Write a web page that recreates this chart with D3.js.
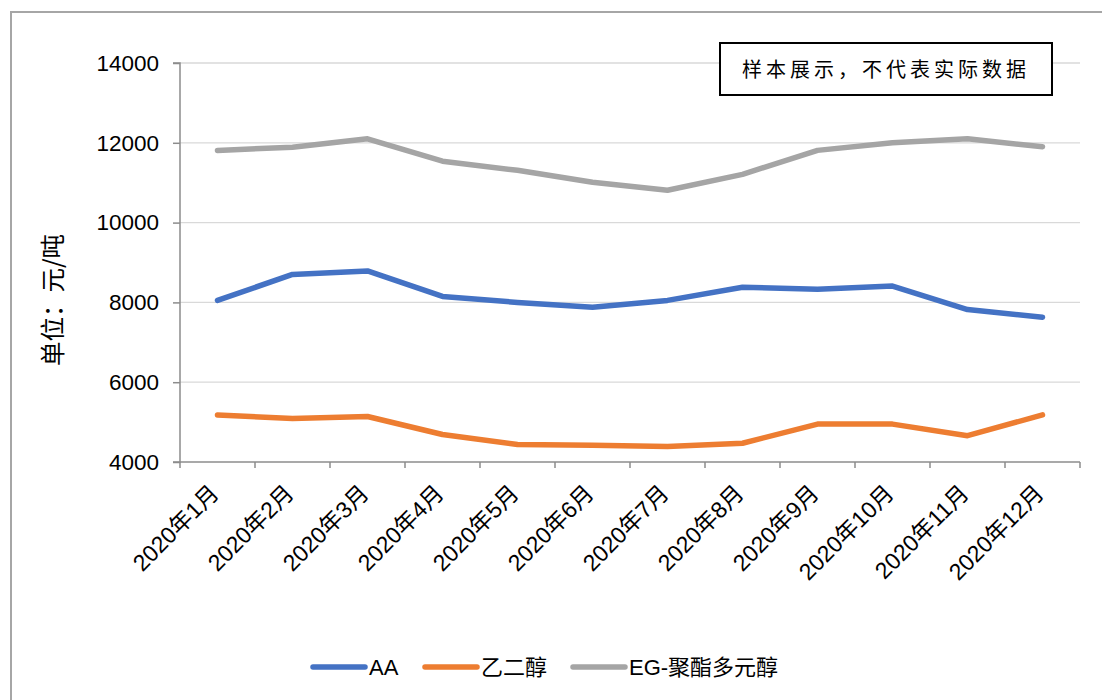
<!DOCTYPE html>
<html><head><meta charset="utf-8">
<script src="https://cdn.jsdelivr.net/npm/d3@7"></script>
<style>
html,body{margin:0;padding:0;background:#fff;}
svg{display:block;}
</style></head>
<body>
<svg id="chart" width="1102" height="700"></svg>
<script>
const categories = ["2020年1月","2020年2月","2020年3月","2020年4月","2020年5月","2020年6月","2020年7月","2020年8月","2020年9月","2020年10月","2020年11月","2020年12月"];
const seriesNames = ["AA","乙二醇","EG-聚酯多元醇"];
const aaValues = [8050, 8700, 8790, 8150, 8000, 7880, 8050, 8380, 8330, 8410, 7820, 7630];
const egValues = [5180, 5090, 5140, 4690, 4440, 4420, 4390, 4470, 4950, 4950, 4660, 5180];
const polyolValues = [11810, 11890, 12100, 11540, 11310, 11010, 10810, 11210, 11810, 12000, 12100, 11900];
const yTicks = [4000, 6000, 8000, 10000, 12000, 14000];
const colors = ["#4472C4", "#ED7D31", "#A5A5A5"];
const yTitle = "单位：元/吨";
const noteText = "样本展示，不代表实际数据";

(function(){
const svg = d3.select("#chart");
const font = "'Liberation Sans', Arial, 'Noto Sans CJK SC', sans-serif";
const cjk = "'Noto Sans CJK SC', sans-serif";

// outer border
svg.append("path").attr("d", "M11,712 L11,12 L1115,12")
  .attr("fill","none").attr("stroke","#A6A6A6").attr("stroke-width",2);

const pl = 180, pr = 1080, pt = 63, pb = 462;
const x = d3.scaleBand().domain(categories).range([pl, pr]).padding(0);
const y = d3.scaleLinear().domain([4000, 14000]).range([pb, pt]);

// gridlines
svg.append("g").selectAll("line").data(yTicks.filter(d => d > 4000)).join("line")
  .attr("x1", pl).attr("x2", pr).attr("y1", d => y(d)).attr("y2", d => y(d))
  .attr("stroke", "#D9D9D9").attr("stroke-width", 1.3);

// y axis
const yAxis = svg.append("g").attr("transform", `translate(${pl},0)`)
  .call(d3.axisLeft(y).tickValues(yTicks).tickSize(7).tickPadding(14).tickFormat(d3.format("d")));
yAxis.select(".domain").attr("stroke", "#8C8C8C").attr("stroke-width", 1.5).attr("d", `M-7,${pt}H0V${pb}H-7`);
yAxis.selectAll(".tick line").attr("stroke", "#8C8C8C").attr("stroke-width", 1.5);
yAxis.selectAll(".tick text").attr("font-family", font).attr("font-size", 22.5).attr("fill", "#000");

// x axis
const xAxis = svg.append("g").attr("transform", `translate(0,${pb})`)
  .call(d3.axisBottom(x).tickSize(0).tickFormat(""));
xAxis.select(".domain").attr("stroke", "#8C8C8C").attr("stroke-width", 1.5).attr("d", `M${pl},0H${pr}`);
const bounds = categories.map(c => x(c)).concat([pr]);
xAxis.append("g").selectAll("line").data(bounds).join("line")
  .attr("x1", d => d).attr("x2", d => d).attr("y1", 0).attr("y2", 6)
  .attr("stroke", "#8C8C8C").attr("stroke-width", 1.5);
xAxis.append("g").selectAll("text").data(categories).join("text")
  .attr("transform", d => `translate(${x(d) + x.bandwidth()/2 - 3},${27}) rotate(-45)`)
  .attr("text-anchor", "end")
  .attr("dy", "0.35em")
  .attr("font-family", font).attr("font-size", 23).attr("fill", "#000")
  .text(d => d);

// y title
svg.append("text")
  .attr("transform", `translate(62,300) rotate(-90)`)
  .attr("text-anchor", "middle")
  .attr("font-family", cjk).attr("font-size", 24.5).attr("fill", "#000")
  .text(yTitle);

// lines
const allSeries = [aaValues, egValues, polyolValues];
const line = d3.line().x((d, i) => x(categories[i]) + x.bandwidth()/2).y(d => y(d));
svg.append("g").selectAll("path").data([polyolValues, aaValues, egValues]).join("path")
  .attr("d", d => line(d))
  .attr("fill", "none")
  .attr("stroke", d => colors[allSeries.indexOf(d)])
  .attr("stroke-width", 5.5)
  .attr("stroke-linejoin", "round")
  .attr("stroke-linecap", "round");

// note box
const note = svg.append("g");
note.append("rect").attr("x", 720).attr("y", 43).attr("width", 332).attr("height", 52)
  .attr("fill", "#fff").attr("stroke", "#000").attr("stroke-width", 2);
note.append("text").attr("x", 886).attr("y", 70).attr("dy", "0.35em")
  .attr("text-anchor", "middle")
  .attr("font-family", cjk).attr("font-size", 20).attr("letter-spacing", "4px")
  .attr("fill", "#000").text(noteText);

// legend
const legendX = [313, 425, 573];
const lg = svg.append("g").selectAll("g").data(seriesNames).join("g")
  .attr("transform", (d, i) => `translate(${legendX[i]},667)`);
lg.append("line").attr("x1", 0).attr("x2", 52).attr("y1", 0).attr("y2", 0)
  .attr("stroke", (d, i) => colors[i]).attr("stroke-width", 5.5).attr("stroke-linecap", "round");
lg.append("text").attr("x", 56).attr("y", 0).attr("dy", "0.36em")
  .attr("font-family", font).attr("font-size", 22).attr("fill", "#000")
  .text(d => d);
})();
</script>
</body></html>
